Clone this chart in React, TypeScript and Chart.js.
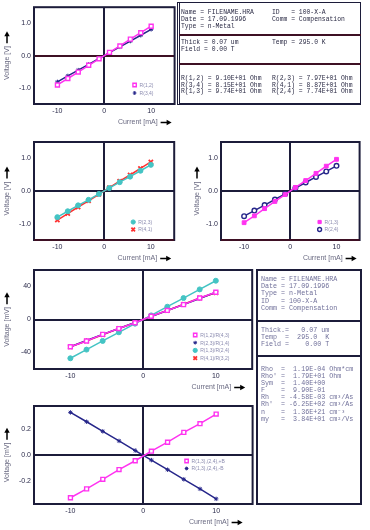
import React, { useEffect, useRef } from "react";
import { Chart, registerables } from "chart.js";
import { drawPoint } from "chart.js/helpers";
Chart.register(...registerables);

// ---------------- DATA ----------------
const CURRENT = [-10, -7.78, -5.56, -3.33, -1.11, 1.11, 3.33, 5.56, 7.78, 10];
const X_TICK_LABELS = [-10, 0, 10];

const V_R12 = [-0.91, -0.71, -0.51, -0.3, -0.1, 0.1, 0.3, 0.51, 0.71, 0.91];
const V_R34 = [-0.815, -0.63, -0.45, -0.27, -0.09, 0.09, 0.27, 0.45, 0.63, 0.815];
const V_R23 = [-0.8, -0.62, -0.44, -0.27, -0.09, 0.09, 0.27, 0.44, 0.62, 0.8];
const V_R41 = [-0.89, -0.69, -0.49, -0.3, -0.1, 0.1, 0.3, 0.49, 0.69, 0.89];
const V_R13 = [-0.97, -0.76, -0.54, -0.32, -0.11, 0.11, 0.32, 0.54, 0.76, 0.97];
const V_R24 = [-0.77, -0.6, -0.43, -0.26, -0.09, 0.09, 0.26, 0.43, 0.6, 0.77];

const MV_A = [-33, -26, -18, -11, -4, 4, 11, 18, 26, 33];
const MV_B = [-33, -25.5, -18, -11, -3.5, 3.5, 11, 18, 25.5, 33];
const MV_C = [-47, -36.5, -26, -15.5, -5, 5, 15.5, 26, 36.5, 47];
const MV_D = [-33, -26, -18.5, -11, -4, 4, 11, 18.5, 26, 32.5];

const HALL_P = [-0.334, -0.265, -0.19, -0.114, -0.045, 0.03, 0.1, 0.177, 0.245, 0.32];
const HALL_N = [0.333, 0.26, 0.185, 0.11, 0.035, -0.04, -0.115, -0.19, -0.265, -0.343];

const Y_LABELS_V = [-1, 0, 1];
const Y_LABELS_MV = [-40, 0, 40];
const Y_LABELS_H = [-0.2, 0, 0.2];

// ---------------- STYLES ----------------
const MAGENTA = "#ff33f0";
const NAVY = "#26268a";
const CYAN = "#44c4c4";
const RED = "#ff3030";
const FRAME = "#1c1c3a";
const MAROON = "#3e1024";

const ST = {
  sqOpen: (c: string) => ({ color: c, pointStyle: "rect", radius: 2.8, fill: "#ffffff", bw: 1.4 }),
  sqFill: (c: string) => ({ color: c, pointStyle: "rect", radius: 2.7, fill: c, bw: 1 }),
  star: (c: string) => ({ color: c, pointStyle: "star", radius: 2.2, fill: c, bw: 1 }),
  dot: (c: string) => ({ color: c, pointStyle: "circle", radius: 2.5, fill: c, bw: 1 }),
  ring: (c: string) => ({ color: c, pointStyle: "circle", radius: 2.3, fill: "#ffffff", bw: 1.4 }),
  cross: (c: string) => ({ color: c, pointStyle: "crossRot", radius: 3, fill: c, bw: 1.8 }),
};

type Series = { label: string; data: number[]; style: any };
type Cfg = {
  left: number; top: number; width: number; height: number;
  padTop: number; padRight: number; yWidth: number; xHeight: number;
  yMin: number; yMax: number; yStep: number; yLabels: number[]; yDigits: number;
  yTitle: string; hZero: string; bottomColor?: string;
  series: Series[];
  legend: { dx: number; dy: number; gap: number };
  xTitleInset: number;
};

const PANELS: Cfg[] = [
  {
    left: 0, top: 0, width: 180, height: 130, padTop: 5, padRight: 4, yWidth: 34, xHeight: 26,
    yMin: -1.5, yMax: 1.5, yStep: 0.5, yLabels: Y_LABELS_V, yDigits: 1, yTitle: "Voltage [V]",
    hZero: MAROON,
    series: [
      { label: "R(1,2)", data: V_R12, style: ST.sqOpen(MAGENTA) },
      { label: "R(3,4)", data: V_R34, style: ST.star(NAVY) },
    ],
    legend: { dx: -40, dy: -19, gap: 8 }, xTitleInset: 3,
  },
  {
    left: 0, top: 132, width: 180, height: 134, padTop: 10, padRight: 4, yWidth: 34, xHeight: 26,
    yMin: -1.5, yMax: 1.5, yStep: 0.5, yLabels: Y_LABELS_V, yDigits: 1, yTitle: "Voltage [V]",
    hZero: FRAME, bottomColor: MAROON,
    series: [
      { label: "R(2,3)", data: V_R23, style: ST.dot(CYAN) },
      { label: "R(4,1)", data: V_R41, style: ST.cross(RED) },
    ],
    legend: { dx: -41, dy: -18, gap: 7.5 }, xTitleInset: 3,
  },
  {
    left: 190, top: 132, width: 175, height: 134, padTop: 10, padRight: 4, yWidth: 31, xHeight: 26,
    yMin: -1.5, yMax: 1.5, yStep: 0.5, yLabels: Y_LABELS_V, yDigits: 1, yTitle: "Voltage [V]",
    hZero: FRAME, bottomColor: MAROON,
    series: [
      { label: "R(1,3)", data: V_R13, style: ST.sqFill(MAGENTA) },
      { label: "R(2,4)", data: V_R24, style: ST.ring(NAVY) },
    ],
    legend: { dx: -40, dy: -18, gap: 7.5 }, xTitleInset: 3,
  },
  {
    left: 0, top: 262, width: 258, height: 133, padTop: 8, padRight: 2, yWidth: 34, xHeight: 26,
    yMin: -60, yMax: 60, yStep: 20, yLabels: Y_LABELS_MV, yDigits: 0, yTitle: "Voltage [mV]",
    hZero: FRAME,
    series: [
      { label: "R(1,2)/R(4,3)", data: MV_A, style: ST.sqOpen(MAGENTA) },
      { label: "R(2,3)/R(1,4)", data: MV_B, style: ST.star(NAVY) },
      { label: "R(1,3)/R(2,4)", data: MV_C, style: ST.dot(CYAN) },
      { label: "R(4,1)/R(3,2)", data: MV_D, style: ST.cross(RED) },
    ],
    legend: { dx: -57, dy: -34, gap: 7.7 }, xTitleInset: 7,
  },
  {
    left: 0, top: 398, width: 258, height: 132, padTop: 8, padRight: 2, yWidth: 34, xHeight: 26,
    yMin: -0.383, yMax: 0.383, yStep: 0.1, yLabels: Y_LABELS_H, yDigits: 1, yTitle: "Voltage [mV]",
    hZero: FRAME,
    series: [
      { label: "R(1,3),(2,4),+B", data: HALL_P, style: ST.sqOpen(MAGENTA) },
      { label: "R(1,3),(2,4),-B", data: HALL_N, style: ST.star(NAVY) },
    ],
    legend: { dx: -66, dy: -43, gap: 7.5 }, xTitleInset: 10,
  },
];

const TICK_FONT = { family: "'Liberation Sans', Arial, sans-serif", size: 7 };

function drawArrow(ctx: CanvasRenderingContext2D, x0: number, x1: number, y: number) {
  ctx.beginPath();
  ctx.moveTo(x0, y);
  ctx.lineTo(x1 - 4, y);
  ctx.lineWidth = 1.5;
  ctx.strokeStyle = "#000";
  ctx.stroke();
  ctx.beginPath();
  ctx.moveTo(x1, y);
  ctx.lineTo(x1 - 5, y - 2.7);
  ctx.lineTo(x1 - 5, y + 2.7);
  ctx.closePath();
  ctx.fillStyle = "#000";
  ctx.fill();
}

function Panel({ cfg }: { cfg: Cfg }) {
  const ref = useRef<HTMLCanvasElement>(null);
  useEffect(() => {
    const near = (v: number, list: number[]) => list.some((l) => Math.abs(l - v) < 1e-6);
    const decor = {
      id: "decor",
      afterDraw(chart: any) {
        const { ctx, chartArea: a } = chart;
        ctx.save();
        ctx.strokeStyle = FRAME;
        ctx.lineWidth = 2;
        ctx.strokeRect(a.left, a.top, a.right - a.left, a.bottom - a.top);
        if (cfg.bottomColor) {
          ctx.beginPath();
          ctx.strokeStyle = cfg.bottomColor;
          ctx.moveTo(a.left, a.bottom);
          ctx.lineTo(a.right, a.bottom);
          ctx.stroke();
        }
        ctx.font = "7px 'Liberation Sans', Arial, sans-serif";
        ctx.fillStyle = "#6a6a82";
        ctx.textBaseline = "middle";
        ctx.textAlign = "right";
        const xr = a.right - cfg.xTitleInset;
        const ty = a.bottom + 18.5;
        ctx.fillText("Current [mA]", xr - 14, ty);
        drawArrow(ctx, xr - 11, xr, ty);
        ctx.save();
        ctx.translate(7, (a.top + a.bottom) / 2);
        ctx.rotate(-Math.PI / 2);
        const w = ctx.measureText(cfg.yTitle).width;
        const total = w + 15;
        const s = -total / 2;
        ctx.textAlign = "left";
        ctx.fillStyle = "#6a6a82";
        ctx.fillText(cfg.yTitle, s, 0);
        drawArrow(ctx, s + w + 3, s + total, 0);
        ctx.restore();
        chart.data.datasets.forEach((ds: any, i: number) => {
          const st = cfg.series[i].style;
          const x = a.right + cfg.legend.dx;
          const y = a.bottom + cfg.legend.dy + i * cfg.legend.gap;
          ctx.fillStyle = st.fill;
          ctx.strokeStyle = st.color;
          ctx.lineWidth = st.bw;
          drawPoint(ctx, { pointStyle: st.pointStyle, radius: st.radius * 0.85, rotation: 0, borderWidth: st.bw }, x, y);
          ctx.font = "5px 'Liberation Sans', Arial, sans-serif";
          ctx.fillStyle = "#8c8cb0";
          ctx.textAlign = "left";
          ctx.fillText(ds.label, x + 5, y + 0.5);
        });
        ctx.restore();
      },
    };

    const chart = new Chart(ref.current as HTMLCanvasElement, {
      type: "line",
      data: {
        datasets: cfg.series.map((s) => ({
          label: s.label,
          data: CURRENT.map((x, i) => ({ x, y: s.data[i] })),
          borderColor: s.style.color,
          backgroundColor: s.style.fill,
          borderWidth: 1.5,
          pointStyle: s.style.pointStyle,
          pointRadius: s.style.radius,
          pointBorderWidth: s.style.bw,
          pointBorderColor: s.style.color,
          pointBackgroundColor: s.style.fill,
          tension: 0,
          fill: false,
        })),
      },
      options: {
        animation: false,
        responsive: false,
        events: [],
        layout: { padding: { top: cfg.padTop, right: cfg.padRight, left: 0, bottom: 0 } },
        plugins: { legend: { display: false }, tooltip: { enabled: false } },
        scales: {
          x: {
            type: "linear",
            min: -15,
            max: 15,
            afterFit: (s: any) => { s.height = cfg.xHeight; },
            border: { display: false },
            grid: {
              drawTicks: false,
              lineWidth: 2,
              color: (c: any) => (c.tick && Math.abs(c.tick.value) < 1e-9 ? FRAME : "rgba(0,0,0,0)"),
            },
            ticks: {
              stepSize: 5,
              autoSkip: false,
              maxRotation: 0,
              padding: 3,
              color: "#2a2a4a",
              font: TICK_FONT,
              callback: (v: any) => (near(Number(v), X_TICK_LABELS) ? String(Math.round(Number(v))) : ""),
            },
          },
          y: {
            type: "linear",
            min: cfg.yMin,
            max: cfg.yMax,
            afterFit: (s: any) => { s.width = cfg.yWidth; },
            border: { display: false },
            grid: {
              drawTicks: false,
              lineWidth: 2,
              color: (c: any) => (c.tick && Math.abs(c.tick.value) < 1e-9 ? cfg.hZero : "rgba(0,0,0,0)"),
            },
            ticks: {
              stepSize: cfg.yStep,
              autoSkip: false,
              padding: 3,
              color: "#2a2a4a",
              font: TICK_FONT,
              callback: (v: any) => (near(Number(v), cfg.yLabels) ? Number(v).toFixed(cfg.yDigits) : ""),
            },
          },
        },
      } as any,
      plugins: [decor],
    });
    return () => chart.destroy();
  }, []);
  return (
    <canvas
      ref={ref}
      width={cfg.width}
      height={cfg.height}
      style={{ position: "absolute", left: cfg.left, top: cfg.top, width: cfg.width, height: cfg.height, display: "block" }}
    />
  );
}

// ---------------- TEXT BOXES ----------------
const TOP_LINES: [number, number, string][] = [
  [181, 13, "Name = FILENAME.HRA"],
  [181, 20, "Date = 17.09.1996"],
  [181, 27, "Type = n-Metal"],
  [272, 13, "ID   = 100-X-A"],
  [272, 20, "Comm = Compensation"],
  [181, 43, "Thick = 0.07 um"],
  [181, 50, "Field = 0.00 T"],
  [272, 43, "Temp = 295.0 K"],
  [181, 79, "R(1,2) = 9.10E+01 Ohm"],
  [181, 86, "R(3,4) = 8.15E+01 Ohm"],
  [181, 92, "R(1,3) = 9.74E+01 Ohm"],
  [272, 79, "R(2,3) = 7.97E+01 Ohm"],
  [272, 86, "R(4,1) = 8.87E+01 Ohm"],
  [272, 92, "R(2,4) = 7.74E+01 Ohm"],
];

const BOTTOM_LINES: [number, string][] = [
  [279, "Name = FILENAME.HRA"],
  [286, "Date = 17.09.1996"],
  [293, "Type = n-Metal"],
  [301, "ID   = 100-X-A"],
  [308, "Comm = Compensation"],
  [330, "Thick.=   0.07 um"],
  [337, "Temp  =  295.0  K"],
  [344, "Field =    0.00 T"],
  [369, "Rho  =  1.19E-04 Ohm*cm"],
  [376, "Rho' =  1.79E+01 Ohm"],
  [383, "Sym  =  1.40E+00"],
  [390, "F    =  9.90E-01"],
  [397, "Rh   = -4.58E-03 cm³/As"],
  [404, "Rh'  = -6.25E+02 cm³/As"],
  [412, "n    =  1.36E+21 cm⁻³"],
  [419, "my   =  3.84E+01 cm²/Vs"],
];

function TextBoxes() {
  const abs = (l: number, t: number, w: number, h: number, extra: any = {}) => ({
    position: "absolute" as const, left: l, top: t, width: w, height: h, boxSizing: "border-box" as const, ...extra,
  });
  return (
    <>
      <div style={abs(177, 2, 184, 103, { borderLeft: "3px double " + FRAME, borderTop: "1.5px solid " + FRAME, borderRight: "1.5px solid " + FRAME, borderBottom: "2px solid " + FRAME })} />
      <div style={abs(179, 33.5, 182, 2, { background: MAROON })} />
      <div style={abs(179, 62.5, 182, 2, { background: MAROON })} />
      {TOP_LINES.map(([x, y, t], i) => (
        <div key={"t" + i} style={{ position: "absolute", left: x, top: y - 4, whiteSpace: "pre", fontFamily: "'Liberation Mono', monospace", fontSize: 6.4, lineHeight: "8px", color: "#2a2a44" }}>{t}</div>
      ))}
      <div style={abs(256, 269, 106, 236, { border: "2px solid " + FRAME })} />
      <div style={abs(257, 320, 104, 2, { background: FRAME })} />
      <div style={abs(257, 355, 104, 2, { background: FRAME })} />
      {BOTTOM_LINES.map(([y, t], i) => (
        <div key={"b" + i} style={{ position: "absolute", left: 261, top: y - 4, whiteSpace: "pre", fontFamily: "'Liberation Mono', monospace", fontSize: 6.7, lineHeight: "8px", color: "#70709a" }}>{t}</div>
      ))}
    </>
  );
}

export default function App() {
  return (
    <div style={{ position: "fixed", left: 0, top: 0, width: 370, height: 530, background: "#fff", overflow: "hidden" }}>
      {PANELS.map((p, i) => (
        <Panel key={i} cfg={p} />
      ))}
      <TextBoxes />
    </div>
  );
}
